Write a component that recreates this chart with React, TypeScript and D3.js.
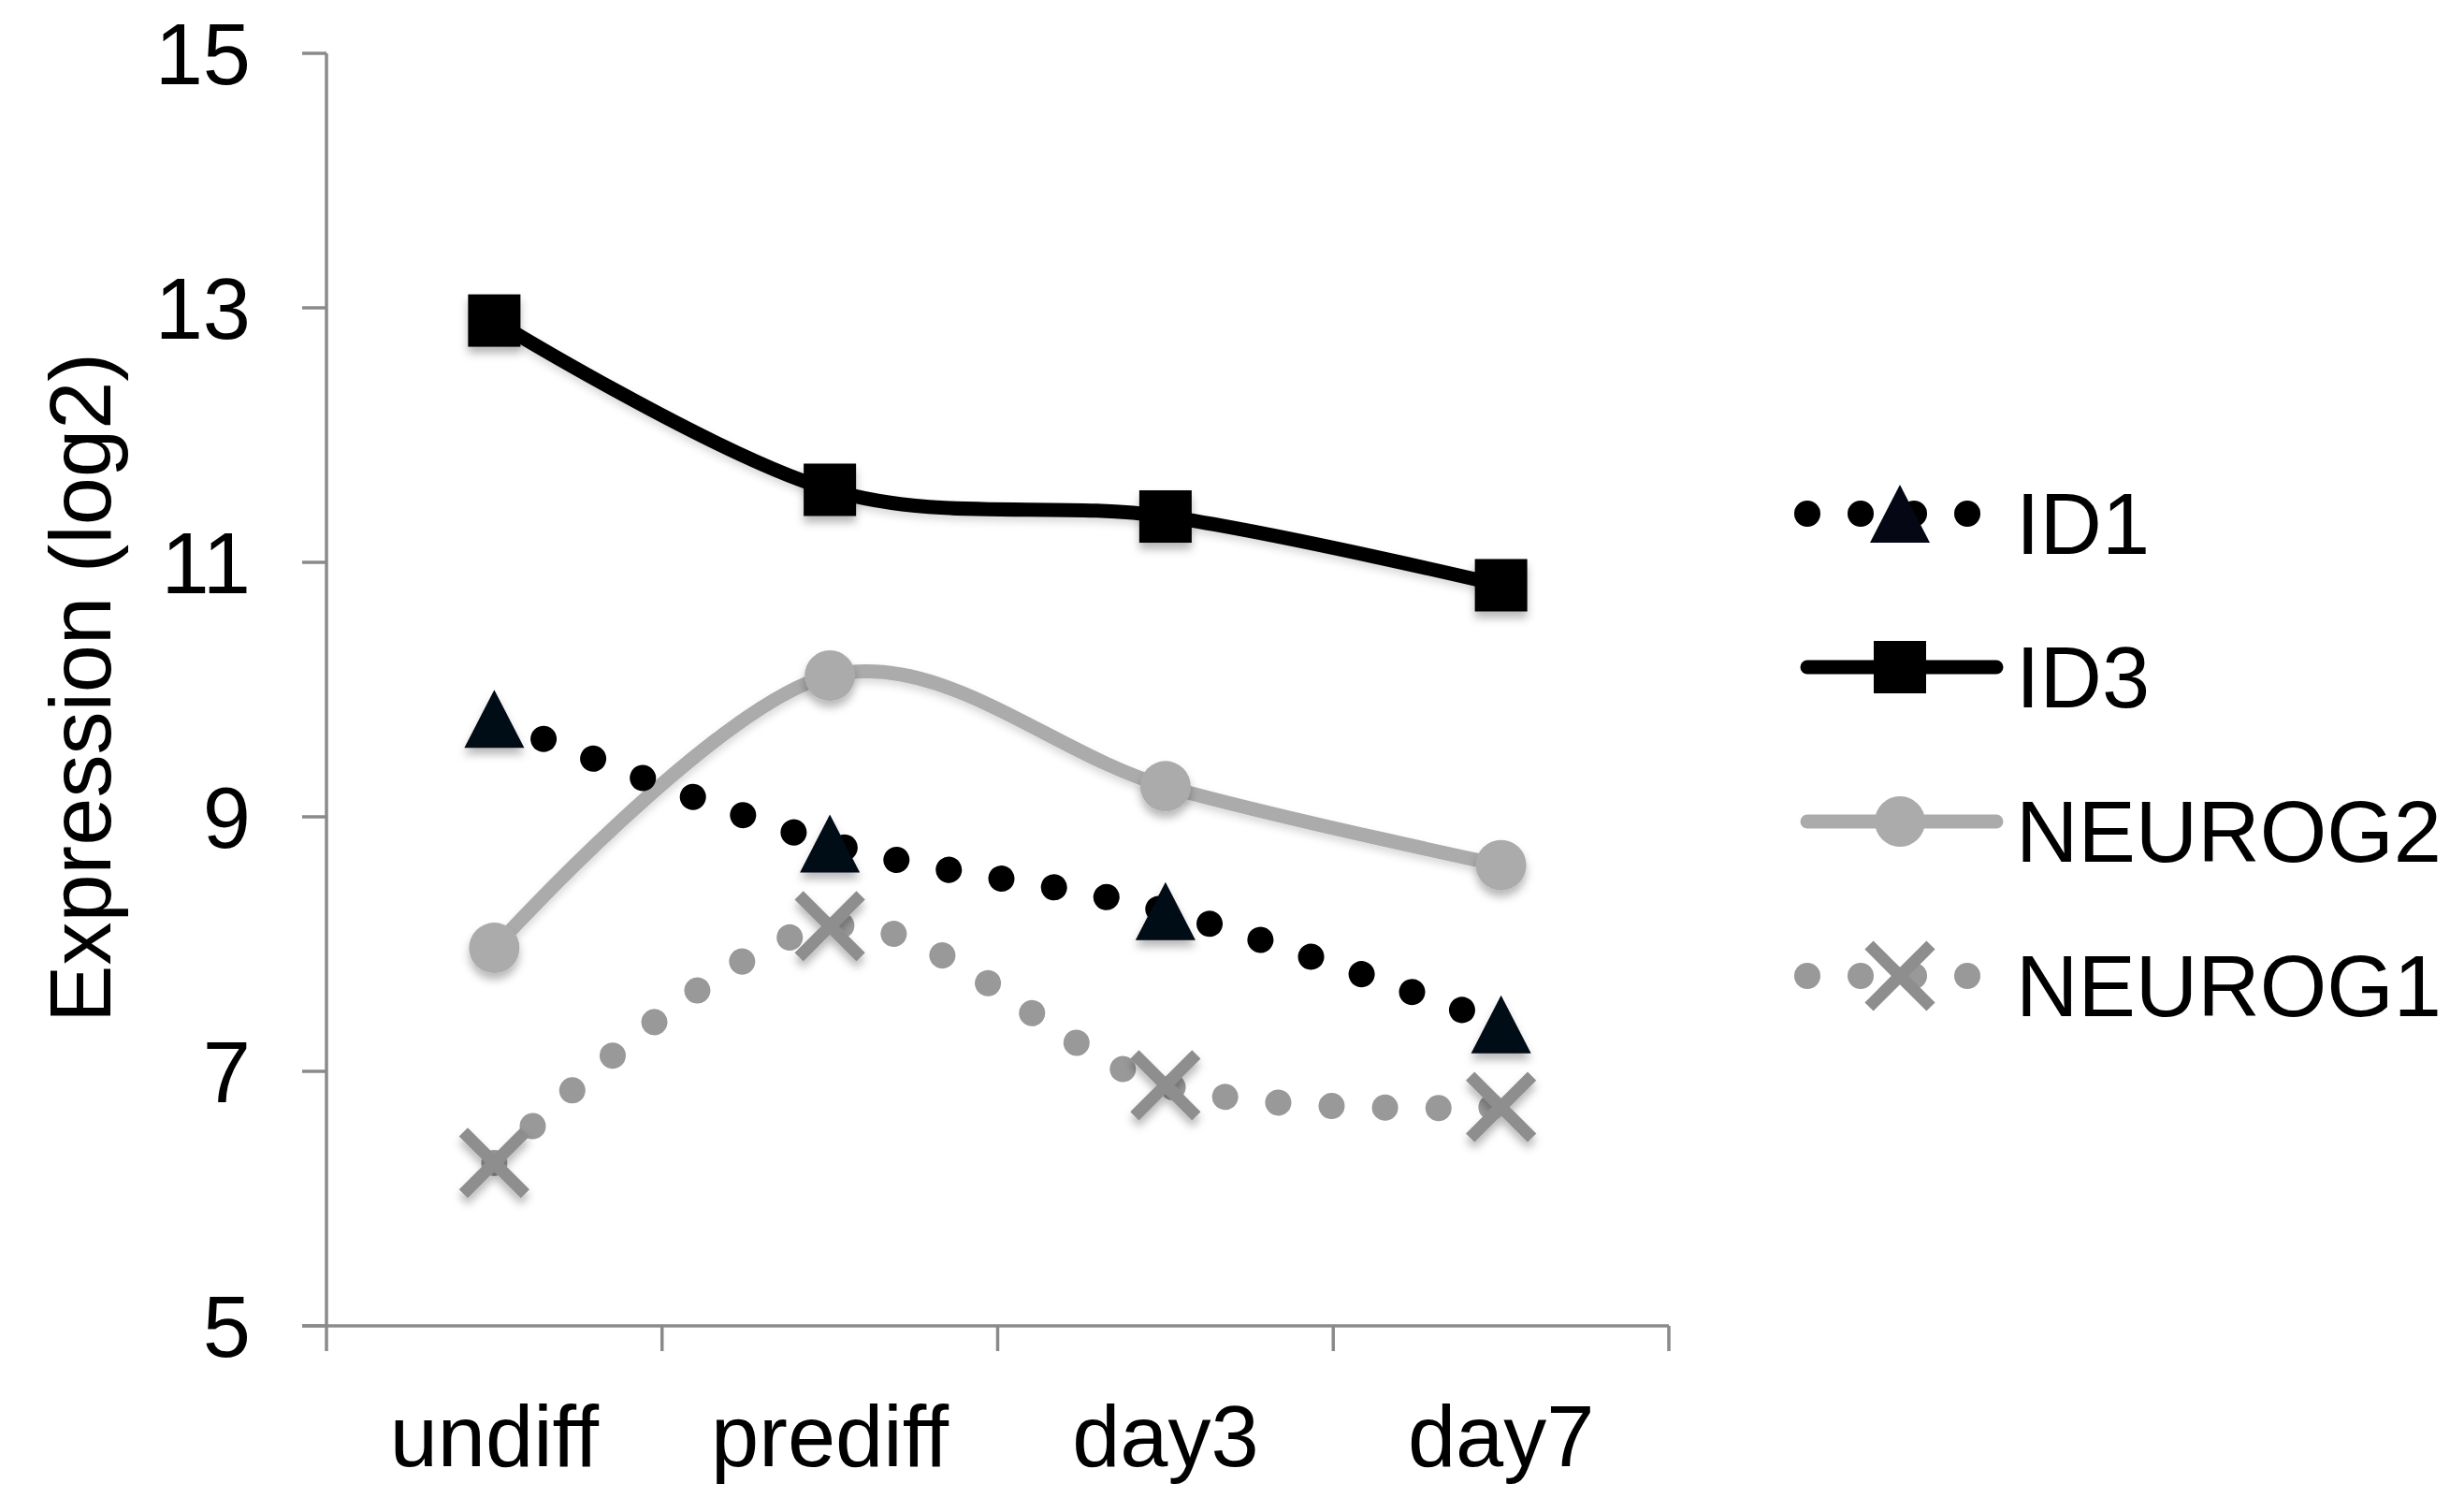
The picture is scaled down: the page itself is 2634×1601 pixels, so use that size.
import React from "react";
import * as d3 from "d3";

const categories = ["undiff", "prediff", "day3", "day7"];
const id1Values = [9.77, 8.79, 8.26, 7.37];
const id3Values = [12.9, 11.57, 11.36, 10.82];
const neurog2Values = [7.97, 10.11, 9.24, 8.62];
const neurog1Values = [6.28, 8.14, 6.89, 6.72];
const yTicks = [5, 7, 9, 11, 13, 15];
const yTitle = "Expression (log2)";

type Marker = "triangle" | "square" | "circle" | "x";
interface Series {
  name: string;
  values: number[];
  lineColor: string;
  markerColor: string;
  dotted: boolean;
  marker: Marker;
}

const seriesList: Series[] = [
  { name: "ID1", values: id1Values, lineColor: "#000000", markerColor: "#050814", dotted: true, marker: "triangle" },
  { name: "ID3", values: id3Values, lineColor: "#000000", markerColor: "#000000", dotted: false, marker: "square" },
  { name: "NEUROG2", values: neurog2Values, lineColor: "#ababab", markerColor: "#ababab", dotted: false, marker: "circle" },
  { name: "NEUROG1", values: neurog1Values, lineColor: "#999999", markerColor: "#8e8e8e", dotted: true, marker: "x" },
];
const drawOrder = [3, 2, 1, 0];

const W = 2634;
const H = 1601;
const FONT = "'Liberation Sans', Arial, Helvetica, sans-serif";
const FS = 92;

const x = d3.scaleBand<string>().domain(categories).range([349, 1784]).paddingInner(0).paddingOuter(0);
const y = d3.scaleLinear().domain([5, 15]).range([1417, 57]);
const cx = (c: string) => (x(c) as number) + x.bandwidth() / 2;

const lineGen = d3
  .line<[number, number]>()
  .x((d) => d[0])
  .y((d) => d[1])
  .curve(d3.curveCardinal.tension(0));

function MarkerShape({ type, px, py, color }: { type: Marker; px: number; py: number; color: string }) {
  if (type === "triangle") {
    return <path d={`M${px},${py - 31} L${px + 32},${py + 31} L${px - 32},${py + 31} Z`} fill={color} />;
  }
  if (type === "square") {
    return <rect x={px - 28} y={py - 28} width={56} height={56} fill={color} />;
  }
  if (type === "circle") {
    return <circle cx={px} cy={py} r={27} fill={color} />;
  }
  return (
    <g stroke={color} strokeWidth={13}>
      <line x1={px - 33} y1={py - 33} x2={px + 33} y2={py + 33} />
      <line x1={px - 33} y1={py + 33} x2={px + 33} y2={py - 33} />
    </g>
  );
}

function lineProps(s: Series) {
  return s.dotted
    ? { stroke: s.lineColor, strokeWidth: 28, strokeLinecap: "round" as const, strokeDasharray: "0.01 57" }
    : { stroke: s.lineColor, strokeWidth: 15, strokeLinecap: "round" as const };
}

export default function App() {
  const legendRows = [549, 713, 878, 1043];
  const legendX0 = 1932;
  const legendX1 = 2134;
  const legendMarkerX = 2031;
  return (
    <div style={{ position: "absolute", left: 0, top: 0, background: "#fff" }}>
      <svg width={W} height={H} viewBox={`0 0 ${W} ${H}`} style={{ display: "block" }}>
        <defs>
          <filter id="shadow" x="-50%" y="-50%" width="200%" height="200%">
            <feDropShadow dx="0" dy="7" stdDeviation="5" floodColor="#000" floodOpacity="0.28" />
          </filter>
          <filter id="lshadow" x="-10%" y="-10%" width="120%" height="130%">
            <feDropShadow dx="0" dy="5" stdDeviation="4" floodColor="#000" floodOpacity="0.15" />
          </filter>
        </defs>
        <rect x={0} y={0} width={W} height={H} fill="#ffffff" />

        {/* Axes */}
        <g stroke="#8a8a8a" strokeWidth={3.5}>
          <line x1={349} y1={y(15)} x2={349} y2={y(5) + 27} />
          {yTicks.map((t) => (
            <line key={t} x1={349 - 26} y1={y(t)} x2={349} y2={y(t)} />
          ))}
          <line x1={349 - 26} y1={y(5)} x2={1784} y2={y(5)} />
          {categories.map((c) => (
            <line key={c} x1={(x(c) as number) + x.bandwidth()} y1={y(5)} x2={(x(c) as number) + x.bandwidth()} y2={y(5) + 27} />
          ))}
        </g>
        <g fontFamily={FONT} fontSize={FS} fill="#000">
          {yTicks.map((t) => (
            <text key={t} x={268} y={y(t) + FS * 0.36} textAnchor="end">
              {t}
            </text>
          ))}
          {categories.map((c) => (
            <text key={c} x={cx(c)} y={1567} textAnchor="middle">
              {c}
            </text>
          ))}
          <text transform={`translate(118, 735) rotate(-90)`} textAnchor="middle">
            {yTitle}
          </text>
        </g>

        {/* Series */}
        {drawOrder.map((i) => {
          const s = seriesList[i];
          const pts: [number, number][] = s.values.map((v, k) => [cx(categories[k]), y(v)]);
          return (
            <g key={s.name}>
              <path d={lineGen(pts) || ""} fill="none" {...lineProps(s)} filter={s.dotted ? undefined : "url(#lshadow)"} />
              <g filter="url(#shadow)">
                {pts.map((p, k) => (
                  <MarkerShape key={k} type={s.marker} px={p[0]} py={p[1]} color={s.markerColor} />
                ))}
              </g>
            </g>
          );
        })}

        {/* Legend */}
        {seriesList.map((s, i) => {
          const ly = legendRows[i];
          return (
            <g key={s.name}>
              <line x1={legendX0} y1={ly} x2={legendX1} y2={ly} {...lineProps(s)} />
              <MarkerShape type={s.marker} px={legendMarkerX} py={ly} color={s.markerColor} />
              <text x={2155} y={ly + 43} fontFamily={FONT} fontSize={FS} fill="#000">
                {s.name}
              </text>
            </g>
          );
        })}
      </svg>
    </div>
  );
}
